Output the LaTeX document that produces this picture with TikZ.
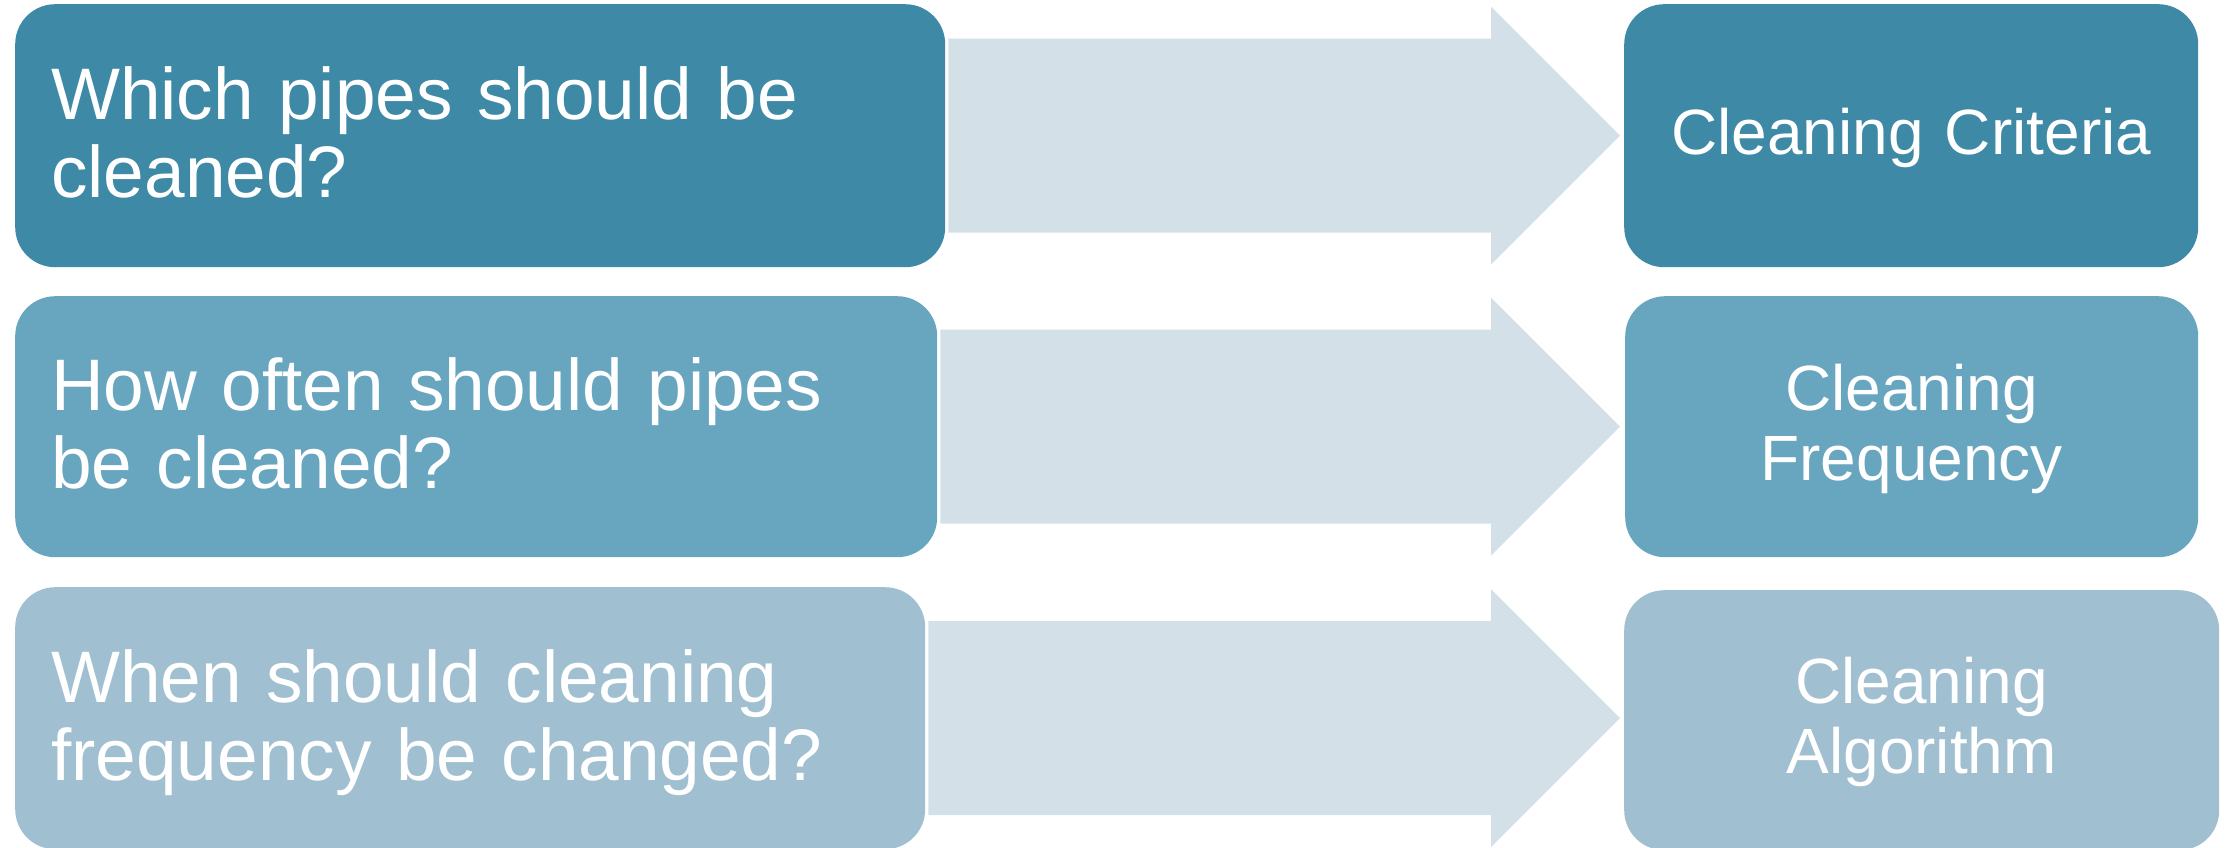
\documentclass[tikz,border=0pt]{standalone}
\usepackage{fontspec}
\setmainfont{Liberation Sans}
\usetikzlibrary{calc}
\definecolor{rowa}{RGB}{62,137,166}
\definecolor{rowb}{RGB}{104,165,191}
\definecolor{rowc}{RGB}{160,191,208}
\definecolor{flowfill}{RGB}{211,224,232}

\begin{document}
\begin{tikzpicture}[x=1pt, y=-1pt,
    box/.style={rounded corners=40pt, anchor=north west, inner ysep=0pt, text=white},
    ques/.style={box, inner xsep=36pt, align=left, font=\fontsize{73}{78}\selectfont, text height=66pt, text depth=98pt},
    ans/.style={box, inner xsep=20pt, align=center, font=\fontsize{64}{70}\selectfont, text height=58pt, text depth=91pt},
    flow/.style={fill=flowfill}]
  \useasboundingbox (0,0) rectangle (2226,848);
  \node[ques, fill=rowa, minimum width=930pt, minimum height=263pt, text width=858pt] (q1) at (15,4)
    {Which pipes should be\\cleaned?};
  \node[ques, fill=rowb, minimum width=922pt, minimum height=261pt, text width=850pt] (q2) at (15,296)
    {How often should pipes\\be cleaned?};
  \node[ques, fill=rowc, minimum width=910pt, minimum height=262pt, text width=838pt] (q3) at (15,587)
    {When should cleaning\\frequency be changed?};
  \node[ans, fill=rowa, minimum width=574pt, minimum height=263pt, text width=534pt, text depth=21pt] (a1) at (1624,4)
    {Cleaning Criteria};
  \node[ans, fill=rowb, minimum width=573pt, minimum height=261pt, text width=533pt] (a2) at (1625,296)
    {Cleaning\\Frequency};
  \node[ans, fill=rowc, minimum width=595pt, minimum height=260pt, text width=555pt] (a3) at (1624,590)
    {Cleaning\\Algorithm};
  \fill[flow] ($(q1.east)+(3,-97)$) -- ($(q1.east -| a1.west)+(-133,-97)$)
    -- ($(q1.east -| a1.west)+(-133,-129)$) -- ($(q1.east -| a1.west)+(-4,0)$)
    -- ($(q1.east -| a1.west)+(-133,129)$) -- ($(q1.east -| a1.west)+(-133,97)$)
    -- ($(q1.east)+(3,97)$) -- cycle;
  \fill[flow] ($(q2.east)+(3,-97)$) -- ($(q2.east -| a2.west)+(-134,-97)$)
    -- ($(q2.east -| a2.west)+(-134,-129)$) -- ($(q2.east -| a2.west)+(-5,0)$)
    -- ($(q2.east -| a2.west)+(-134,129)$) -- ($(q2.east -| a2.west)+(-134,97)$)
    -- ($(q2.east)+(3,97)$) -- cycle;
  \fill[flow] ($(q3.east)+(3,-97)$) -- ($(q3.east -| a3.west)+(-133,-97)$)
    -- ($(q3.east -| a3.west)+(-133,-129)$) -- ($(q3.east -| a3.west)+(-4,0)$)
    -- ($(q3.east -| a3.west)+(-133,129)$) -- ($(q3.east -| a3.west)+(-133,97)$)
    -- ($(q3.east)+(3,97)$) -- cycle;
\end{tikzpicture}
\end{document}
